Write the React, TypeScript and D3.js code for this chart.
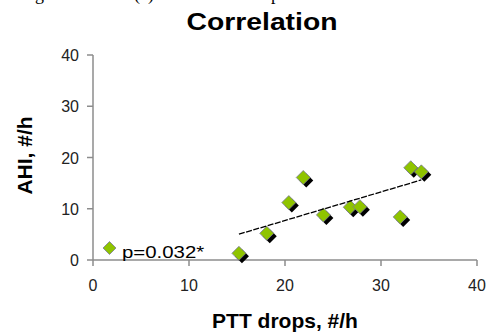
import * as d3 from "d3"
import type { ReactNode } from "react"

// PTT drops (#/h) vs AHI (#/h)
const pttDrops = [15.2, 18.1, 20.4, 21.9, 24.0, 26.8, 27.8, 32.0, 33.1, 34.2]
const ahi = [1.3, 5.2, 11.2, 16.1, 8.8, 10.3, 10.4, 8.4, 18.0, 17.2]
const xTicks = [0, 10, 20, 30, 40]
const yTicks = [0, 10, 20, 30, 40]
const legendLabel = "p=0.032*"

const width = 486
const height = 334
const margin = { top: 55, right: 9, bottom: 74, left: 93 }

const font = "Arial, 'Liberation Sans', sans-serif"

const diamond = (cx: number, cy: number, r: number) =>
  `M${cx},${cy - r}L${cx + r},${cy}L${cx},${cy + r}L${cx - r},${cy}Z`

// text that can be stretched sideways like the scanned original
const T = ({
  x,
  y,
  size,
  sx = 1,
  bold = false,
  anchor = "start",
  fill = "#000",
  children,
}: {
  x: number
  y: number
  size: number
  sx?: number
  bold?: boolean
  anchor?: "start" | "middle" | "end"
  fill?: string
  children: ReactNode
}) => (
  <g transform={`translate(${x},${y}) scale(${sx},1)`}>
    <text
      textAnchor={anchor}
      fontFamily={font}
      fontSize={size}
      fontWeight={bold ? "bold" : "normal"}
      fill={fill}
    >
      {children}
    </text>
  </g>
)

export default function App() {
  const x = d3
    .scaleLinear()
    .domain([0, 40])
    .range([margin.left, width - margin.right])
  const y = d3
    .scaleLinear()
    .domain([0, 40])
    .range([height - margin.bottom, margin.top])

  const points = pttDrops.map((v, i) => ({ x: v, y: ahi[i] }))

  // least squares trend line
  const mx = d3.mean(pttDrops) as number
  const my = d3.mean(ahi) as number
  const sxy = d3.sum(points, (p) => (p.x - mx) * (p.y - my))
  const sxx = d3.sum(points, (p) => (p.x - mx) ** 2)
  const slope = sxy / sxx
  const icpt = my - slope * mx
  const [x0, x1] = d3.extent(pttDrops) as [number, number]
  const line = d3
    .line<number>()
    .x((d) => x(d))
    .y((d) => y(icpt + slope * d))

  const y0 = y(0)
  const xl = x(0)

  return (
    <svg
      width={width}
      height={height}
      style={{ position: "absolute", left: 0, top: 0, background: "#fff" }}
    >
      {/* caption line of the page above, mostly cut off */}
      <g fontFamily="'Liberation Serif', 'Times New Roman', serif" fontSize={18} fill="#000">
        <text x={20} y={0}>Figure</text>
        <text x={134} y={0}>(a)</text>
        <text x={262} y={0}>up</text>
      </g>

      <T x={262} y={30} size={24} sx={1.18} bold anchor="middle">
        Correlation
      </T>

      {/* axes */}
      <g stroke="#8c8c8c" strokeWidth={1.5} fill="none">
        <line x1={xl} x2={xl} y1={y(40)} y2={y0} />
        <line x1={xl} x2={x(40)} y1={y0} y2={y0} />
        {yTicks.map((t) => (
          <line key={t} x1={xl - 6} x2={xl} y1={y(t)} y2={y(t)} />
        ))}
        {xTicks.map((t) => (
          <line key={t} x1={x(t)} x2={x(t)} y1={y0} y2={y0 + 6} />
        ))}
      </g>
      {yTicks.map((t) => (
        <T key={t} x={xl - 14} y={y(t) + 6} size={16} anchor="end" fill="#222">
          {t}
        </T>
      ))}
      {xTicks.map((t) => (
        <T key={t} x={x(t)} y={y0 + 31} size={16} anchor="middle" fill="#222">
          {t}
        </T>
      ))}

      <T x={285} y={328} size={21} bold anchor="middle">
        PTT drops, #/h
      </T>
      <g transform={`translate(32,${(y(40) + y0) / 2 - 2}) rotate(-90)`}>
        <text
          textAnchor="middle"
          fontFamily={font}
          fontWeight="bold"
          fontSize={21}
          fill="#000"
        >
          AHI, #/h
        </text>
      </g>

      {/* markers with shadow */}
      {points.map((p, i) => (
        <path key={"s" + i} d={diamond(x(p.x) + 3, y(p.y) + 3, 7)} fill="#000" />
      ))}
      {points.map((p, i) => (
        <path
          key={"m" + i}
          d={diamond(x(p.x), y(p.y), 7)}
          fill="#8fc400"
          stroke="#7a7a9a"
          strokeWidth={0.8}
        />
      ))}

      <path
        d={line([x0, x1]) as string}
        fill="none"
        stroke="#000"
        strokeWidth={1.3}
        strokeDasharray="6,1.5"
      />

      {/* legend */}
      <path
        d={diamond(109.5, 248, 6.5)}
        fill="#8fc400"
        stroke="#7a7a9a"
        strokeWidth={0.8}
      />
      <T x={122} y={258} size={17} sx={1.2}>
        {legendLabel}
      </T>
    </svg>
  )
}
